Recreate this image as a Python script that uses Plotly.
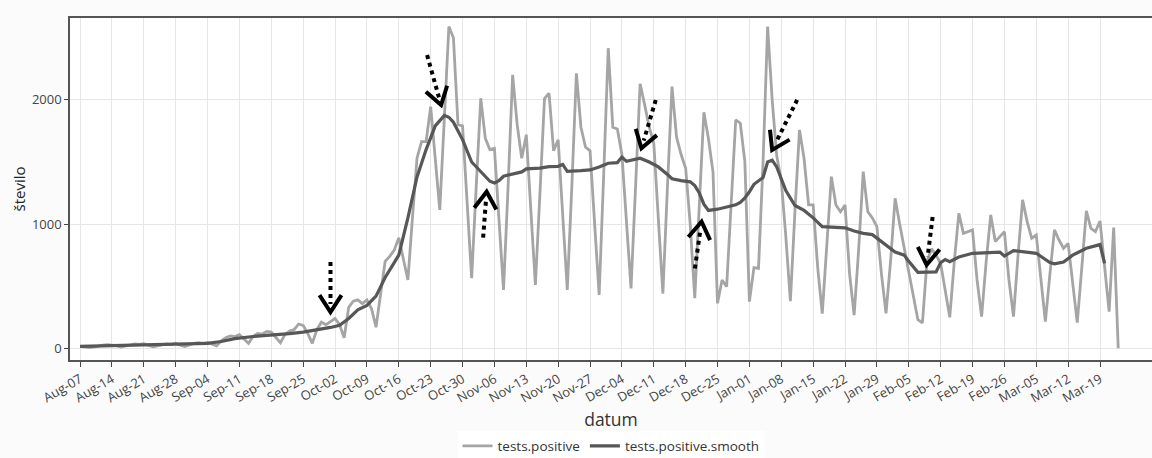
import numpy as np
import pandas as pd
import plotly.graph_objects as go

# ---------------- data ----------------
start_date = "2020-08-07"
end_date = "2021-03-23"

# daily tests.positive, Aug 7 (Fri) .. Mar 23; grouped by Mon-Sun weeks
tests_positive = [
    15, 12, 5,                                  # Aug 7-9
    10, 20, 25, 30, 28, 22, 10,                 # Aug 10-16
    18, 30, 35, 32, 38, 25, 12,                 # Aug 17-23
    20, 28, 35, 30, 40, 25, 15,                 # Aug 24-30
    28, 40, 45, 42, 48, 35, 20,                 # Aug 31-Sep 6
    60, 85, 100, 95, 110, 75, 40,               # Sep 7-13
    95, 120, 115, 135, 130, 90, 45,             # Sep 14-20
    110, 140, 150, 195, 185, 120, 40,           # Sep 21-27
    150, 210, 190, 215, 240, 190, 85,           # Sep 28-Oct 4
    330, 380, 390, 360, 390, 320, 170,          # Oct 5-11
    440, 700, 740, 790, 890, 720, 550,          # Oct 12-18
    1050, 1530, 1664, 1664, 1946, 1500, 1114,   # Oct 19-25
    1850, 2590, 2500, 1800, 1790, 1180, 564,    # Oct 26-Nov 1
    1300, 2013, 1690, 1600, 1610, 1000, 470,    # Nov 2-8
    1300, 2201, 1800, 1530, 1720, 1100, 510,    # Nov 9-15
    1250, 2010, 2053, 1590, 1678, 1100, 470,    # Nov 16-22
    1300, 2214, 1780, 1620, 1590, 1000, 430,    # Nov 23-29
    1400, 2416, 1780, 1765, 1560, 1000, 483,    # Nov 30-Dec 6
    1300, 2130, 1960, 1780, 1650, 1050, 440,    # Dec 7-13
    1300, 2107, 1700, 1560, 1450, 1000, 403,    # Dec 14-20
    1200, 1900, 1690, 1420, 362, 550, 497,      # Dec 21-27
    1170, 1840, 1812, 1503, 376, 650, 644,      # Dec 28-Jan 3
    1500, 2590, 2000, 1550, 1350, 900, 380,     # Jan 4-10
    1100, 1758, 1530, 1154, 1154, 650, 280,     # Jan 11-17
    850, 1382, 1154, 1100, 1154, 600, 268,      # Jan 18-24
    800, 1422, 1100, 1050, 980, 600, 282,       # Jan 25-31
    700, 1208, 1000, 800, 600, 420, 230,        # Feb 1-7
    205, 700, 800, 750, 684, 450, 250,          # Feb 8-14
    700, 1087, 926, 940, 953, 550, 255,         # Feb 15-21
    700, 1074, 859, 899, 939, 550, 255,         # Feb 22-28
    750, 1195, 1020, 886, 912, 550, 215,        # Mar 1-7
    600, 953, 872, 805, 845, 550, 207,          # Mar 8-14
    650, 1106, 966, 939, 1025, 660, 295,        # Mar 15-21
    972, 0,                                     # Mar 22-23
]

smooth_dates = [
    "2020-08-07", "2020-08-14", "2020-08-21", "2020-08-28", "2020-09-04", "2020-09-07",
    "2020-09-10", "2020-09-14", "2020-09-18", "2020-09-22", "2020-09-25", "2020-09-28",
    "2020-10-01", "2020-10-03", "2020-10-05", "2020-10-07", "2020-10-09", "2020-10-11",
    "2020-10-13", "2020-10-15", "2020-10-16", "2020-10-18", "2020-10-20", "2020-10-22",
    "2020-10-24", "2020-10-26", "2020-10-27", "2020-10-28", "2020-10-30", "2020-11-01",
    "2020-11-03", "2020-11-05", "2020-11-06", "2020-11-07", "2020-11-08", "2020-11-10",
    "2020-11-12", "2020-11-13", "2020-11-16", "2020-11-18", "2020-11-20", "2020-11-21",
    "2020-11-22", "2020-11-25", "2020-11-27", "2020-11-29", "2020-12-01", "2020-12-03",
    "2020-12-04", "2020-12-05", "2020-12-08", "2020-12-10", "2020-12-12", "2020-12-14",
    "2020-12-15", "2020-12-17", "2020-12-19", "2020-12-20", "2020-12-21", "2020-12-22",
    "2020-12-23", "2020-12-25", "2020-12-27", "2020-12-29", "2020-12-30", "2020-12-31",
    "2021-01-01", "2021-01-02", "2021-01-04", "2021-01-05", "2021-01-06", "2021-01-07",
    "2021-01-09", "2021-01-11", "2021-01-13", "2021-01-15", "2021-01-17", "2021-01-22",
    "2021-01-24", "2021-01-26", "2021-01-28", "2021-01-31", "2021-02-02", "2021-02-04",
    "2021-02-05", "2021-02-07", "2021-02-11", "2021-02-12", "2021-02-13", "2021-02-14",
    "2021-02-16", "2021-02-19", "2021-02-24", "2021-02-25", "2021-02-26", "2021-02-28",
    "2021-03-05", "2021-03-08", "2021-03-09", "2021-03-11", "2021-03-13", "2021-03-16",
    "2021-03-19", "2021-03-20",
]
tests_positive_smooth = [
    15, 22, 27, 32, 40, 55,
    78, 95, 105, 118, 130, 148,
    168, 185, 240, 310, 345, 420,
    570, 690, 750, 1050, 1380, 1600,
    1790, 1875, 1860, 1820, 1680, 1500,
    1420, 1345, 1330, 1350, 1385, 1400,
    1420, 1445, 1450, 1462, 1465, 1480,
    1425, 1430, 1436, 1460, 1490, 1495,
    1540, 1505, 1530, 1500, 1460, 1400,
    1365, 1350, 1340, 1310, 1250, 1160,
    1110, 1120, 1140, 1155, 1175, 1210,
    1260, 1320, 1375, 1500, 1515, 1460,
    1270, 1150, 1110, 1050, 980, 970,
    945, 925, 915, 830, 775, 750,
    700, 612, 615, 690, 715, 698,
    735, 765, 770, 775, 743, 786,
    765, 690, 680, 695, 750, 805,
    835, 684,
]

# weekly tick dates (labels formatted as %b-%d)
tick_dates = [
    "2020-08-07", "2020-08-14", "2020-08-21", "2020-08-28", "2020-09-04", "2020-09-11",
    "2020-09-18", "2020-09-25", "2020-10-02", "2020-10-09", "2020-10-16", "2020-10-23",
    "2020-10-30", "2020-11-06", "2020-11-13", "2020-11-20", "2020-11-27", "2020-12-04",
    "2020-12-11", "2020-12-18", "2020-12-25", "2021-01-01", "2021-01-08", "2021-01-15",
    "2021-01-22", "2021-01-29", "2021-02-05", "2021-02-12", "2021-02-19", "2021-02-26",
    "2021-03-05", "2021-03-12", "2021-03-19",
]

# arrows: tip date, tip value, tail offset from tip in screen pixels (dx right, dy down)
arrow_tip_dates = ["2020-10-01", "2020-10-25 07:00", "2020-11-04 07:00", "2020-12-08 07:00",
                   "2020-12-21 12:00", "2021-01-06", "2021-02-08 22:00"]
arrow_tip_values = [292, 1958, 1261, 1610, 1019, 1597, 671]
arrow_tail_dx = [0, -14, -3.5, 14.3, -6.7, 25, 6]
arrow_tail_dy = [-50, -50, 46, -48.3, 46.7, -50, -48]

x_range = ["2020-08-04 19:00", "2021-03-30 10:00"]
y_range = [-94, 2659]
y_ticks = [0, 1000, 2000]

# ---------------- figure ----------------
dates = pd.date_range(start_date, end_date, freq="D")
tick_dt = pd.to_datetime(tick_dates)

fig = go.Figure()
fig.add_trace(go.Scatter(
    x=dates, y=tests_positive, mode="lines", name="tests.positive",
    line=dict(color="#a5a5a5", width=2.8),
))
fig.add_trace(go.Scatter(
    x=pd.to_datetime(smooth_dates), y=tests_positive_smooth, mode="lines",
    name="tests.positive.smooth",
    line=dict(color="#575757", width=3.2),
))

shapes = []
head_len, head_w = 17, 11
for d, v, dx, dy in zip(arrow_tip_dates, arrow_tip_values, arrow_tail_dx, arrow_tail_dy):
    tx, ty = dx, -dy                    # plotly pixel offsets: positive y = up
    L = np.hypot(tx, ty)
    ux, uy = -tx / L, -ty / L          # unit vector tail -> tip
    px, py = -uy, ux
    bx, by = -ux * head_len, -uy * head_len
    w1 = (bx + px * head_w, by + py * head_w)
    w2 = (bx - px * head_w, by - py * head_w)
    sx, sy = -ux * 8, -uy * 8
    shapes.append(dict(
        type="line", xref="x", yref="y", xsizemode="pixel", ysizemode="pixel",
        xanchor=d, yanchor=v, x0=tx, y0=ty, x1=sx, y1=sy,
        line=dict(color="black", width=4, dash="dot"),
    ))
    shapes.append(dict(
        type="path", xref="x", yref="y", xsizemode="pixel", ysizemode="pixel",
        xanchor=d, yanchor=v,
        path=f"M {w1[0]:.1f},{w1[1]:.1f} L 0,0 L {w2[0]:.1f},{w2[1]:.1f}",
        line=dict(color="black", width=4),
    ))

fig.update_layout(
    width=1152, height=458,
    margin=dict(l=70, r=0, t=18, b=98, autoexpand=False),
    paper_bgcolor="#fbfbfb",
    plot_bgcolor="white",
    font=dict(family="Open Sans, Arial, sans-serif", color="#444", size=13),
    shapes=shapes,
    showlegend=True,
    legend=dict(
        orientation="h", x=0.5, xanchor="center", y=-0.252, yanchor="middle",
        bgcolor="white", font=dict(size=13.5, color="#333"),
    ),
    xaxis=dict(
        type="date", range=x_range, automargin=False,
        tickvals=tick_dt, ticktext=[t.strftime("%b-%d") for t in tick_dt],
        tickangle=-30, ticks="outside", ticklen=5, tickcolor="#444",
        showgrid=True, gridcolor="#e6e6e6", gridwidth=1,
        showline=True, linecolor="#555", linewidth=1.5, mirror=True,
        zeroline=False,
        title=dict(text="datum", font=dict(size=17.5, color="#333"), standoff=1),
        tickfont=dict(size=13, color="#444"),
    ),
    yaxis=dict(
        range=y_range, tickvals=y_ticks, automargin=False,
        ticks="outside", ticklen=4, tickcolor="#444",
        showgrid=True, gridcolor="#e6e6e6", gridwidth=1,
        showline=True, linecolor="#555", linewidth=1.5, mirror=False,
        zeroline=False,
        title=dict(text="število", font=dict(size=15, color="#222"), standoff=3),
        tickfont=dict(size=13, color="#444"),
    ),
)

fig.write_html("out.html")
